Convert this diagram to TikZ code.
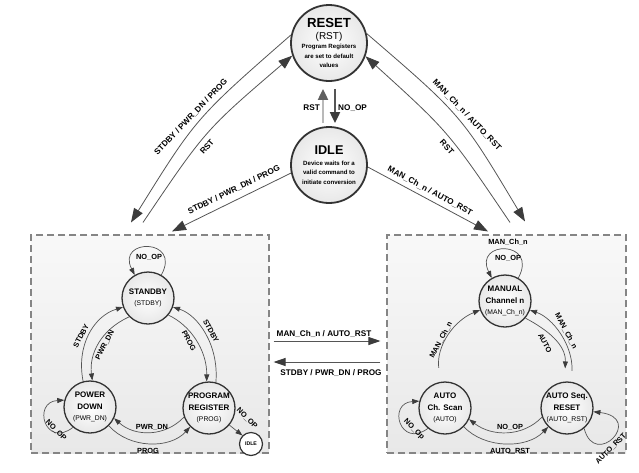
\documentclass[tikz,border=0pt]{standalone}
\usepackage{fontspec}
\setmainfont{Liberation Sans}
\usetikzlibrary{arrows.meta,calc}
\definecolor{ln}{HTML}{555555}
\definecolor{hd}{HTML}{3C3C3C}
\definecolor{cb}{HTML}{333333}
\definecolor{bx}{HTML}{858585}
\newcommand\tB{\fontsize{8}{9}\selectfont\bfseries}
\newcommand\tR{\fontsize{6.8}{9}\selectfont}
\newcommand\tD{\fontsize{6.1}{7}\selectfont\bfseries}
\tikzset{
  st/.style={circle, draw=cb, line width=1.3pt, inner color=white, outer color=gray!18,
    minimum size=52pt, inner sep=0pt, align=center, font=\fontsize{8}{11.5}\selectfont},
  bigst/.style={circle, draw=cb, line width=1.8pt, inner color=white, outer color=gray!18,
    minimum size=76pt, inner sep=0pt, align=center, font=\fontsize{6}{9.6}\selectfont},
  tinyst/.style={circle, draw=cb, line width=1.2pt, fill=white, minimum size=23pt, inner sep=0pt,
    font=\fontsize{5.2}{6}\selectfont\bfseries},
  grpbox/.style={draw=bx, dash pattern=on 7pt off 4pt, line width=1.1pt,
    top color=gray!5, bottom color=gray!18, inner sep=0pt},
  bigarr/.style={draw=ln, line width=0.8pt, -{Triangle[length=14pt,width=10pt,color=hd]}},
  midarr/.style={draw=ln, line width=0.9pt, -{Triangle[length=12pt,width=8pt,color=hd]}},
  smarr/.style={draw=ln, line width=0.7pt, -{Triangle[length=7pt,width=5pt,color=hd]}},
  lbl/.style={font=\fontsize{8.2}{9}\selectfont\bfseries, inner sep=0pt},
  ilbl/.style={font=\fontsize{7.4}{8}\selectfont\bfseries, inner sep=0pt},
}
\begin{document}
\begin{tikzpicture}[x=1pt,y=-1pt]
\useasboundingbox (0,0) rectangle (639,472);
\fill[white] (0,0) rectangle (639,472);

% group boxes
\node[grpbox, minimum width=238pt, minimum height=218pt] (leftbox) at (150,344) {};
\node[grpbox, minimum width=239pt, minimum height=218pt] (rightbox) at (506.5,344) {};

% top states
\node[bigst] (reset) at (329,43) {{\fontsize{13.2}{14}\selectfont\bfseries RESET}\\[3pt]
  {\fontsize{10}{11}\selectfont (RST)}\\[-1pt]{\tD Program Registers}\\{\tD are set to default}\\{\tD values}};
\node[bigst] (idle) at (329,165) {{\fontsize{12.7}{14}\selectfont\bfseries IDLE}\\[1pt]
  {\tD Device waits for a}\\{\tD valid command to}\\{\tD initiate conversion}};

% left group states
\node[st] (standby) at (148,298) {{\tB STANDBY}\\[-1pt]{\tR (STDBY)}};
\node[st] (pwrdn) at (90,407) {{\tB POWER}\\{\tB DOWN}\\{\tR (PWR\_DN)}};
\node[st] (prog) at (209,408) {{\tB PROGRAM}\\{\tB REGISTER}\\{\tR (PROG)}};
\node[tinyst] (idles) at (251,444) {IDLE};

% right group states
\node[st] (manual) at (505,301) {{\tB MANUAL}\\{\tB Channel n}\\{\tR (MAN\_Ch\_n)}};
\node[st] (auto) at (445,408) {{\tB AUTO}\\{\tB Ch. Scan}\\{\tR (AUTO)}};
\node[st] (autorst) at (567,408) {{\tB AUTO Seq.}\\{\tB RESET}\\{\tR (AUTO\_RST)}};

% RESET <-> IDLE
\draw[line width=2pt, draw=gray!55, -{Triangle[length=11pt,width=10pt,color=gray!75!black]}]
  ($(idle.north)+(-6,-3)$) -- ($(reset.south)+(-6,7)$);
\draw[line width=2pt, draw=ln, -{Triangle[length=11pt,width=10pt,color=hd]}]
  ($(reset.south)+(6,7)$) -- ($(idle.north)+(6,-3)$);
\node[lbl, anchor=east] (lrst) at (320,108) {RST};
\node[lbl, anchor=west] (lnoop) at (338,108) {NO\_OP};

% outer connectors, left
\draw[bigarr] (reset.168) .. controls (196,118) .. ($(leftbox.north)+(-19,-12)$);
\draw[bigarr] ($(leftbox.north)+(-7,-12)$) .. controls (205.4,130) .. (reset.199);
\draw[bigarr] (idle.192) -- ($(leftbox.north)+(22,-3)$);
\node[lbl, rotate=46] (lo1) at (191,117) {STDBY / PWR\_DN / PROG};
\node[lbl, rotate=48] (lo2) at (207,147) {RST};
\node[lbl, rotate=26] (lo3) at (234,190) {STDBY / PWR\_DN / PROG};

% outer connectors, right
\draw[bigarr] (reset.14) .. controls (461.4,115.1) .. ($(rightbox.north)+(18.5,-13)$);
\draw[bigarr] ($(rightbox.north)+(3.5,-12)$) .. controls (448.6,131.7) .. (reset.-20);
\draw[bigarr] (idle.-3) -- ($(rightbox.north)+(-18.5,-3)$);
\node[lbl, rotate=-46] (ro1) at (467,115) {MAN\_Ch\_n / AUTO\_RST};
\node[lbl, rotate=-48] (ro2) at (447,147) {RST};
\node[lbl, rotate=-28] (ro3) at (430,191) {MAN\_Ch\_n / AUTO\_RST};

% between groups
\draw[midarr] ($(leftbox.east)+(4,-3)$) -- ($(rightbox.west)+(-6,-3)$);
\draw[midarr] ($(rightbox.west)+(-6,18)$) -- ($(leftbox.east)+(4,18)$);
\node[lbl] (mid1) at (324,334) {MAN\_Ch\_n / AUTO\_RST};
\node[lbl] (mid2) at (331,373) {STDBY / PWR\_DN / PROG};

% left group transitions
\draw[smarr] (standby.60) .. controls (182,238) and (116,238) .. (standby.120);
\node[ilbl] (l1) at (149,257) {NO\_OP};
\draw[smarr] (pwrdn.105) .. controls (76,345) and (94,316) .. (standby.200);
\node[ilbl, rotate=62] (l2) at (81,336) {STDBY};
\draw[smarr] (standby.225) .. controls (100,330) and (89,355) .. (pwrdn.85);
\node[ilbl, rotate=62] (l3) at (105,345) {PWR\_DN};
\draw[smarr] (standby.-40) .. controls (190,325) and (207,350) .. (prog.95);
\node[ilbl, rotate=-62] (l4) at (189,341) {PROG};
\draw[smarr] (prog.75) .. controls (219,345) and (198,315) .. (standby.-20);
\node[ilbl, rotate=-62] (l5) at (211,331) {STDBY};
\draw[smarr] (prog.200) .. controls (165,437) and (135,437) .. (pwrdn.-25);
\node[ilbl] (l6) at (152,427) {PWR\_DN};
\draw[smarr] (pwrdn.-45) .. controls (130,449) and (170,449) .. (prog.-135);
\node[ilbl] (l7) at (148,451) {PROG};
\draw[smarr] (pwrdn.230) .. controls (45,449) and (32,402) .. (pwrdn.165);
\node[ilbl, rotate=-45] (l8) at (56,430) {NO\_OP};
\draw[smarr] (prog.-40) -- (idles.135);
\node[ilbl, rotate=-45] (l9) at (247,418) {NO\_OP};

% right group transitions
\draw[smarr] (manual.60) .. controls (539,240) and (473,240) .. (manual.120);
\node[ilbl] (r0) at (508,242) {MAN\_Ch\_n};
\node[ilbl] (r1) at (508,258) {NO\_OP};
\draw[smarr, shorten <=14pt] (auto.100) .. controls (436,345) and (455,320) .. (manual.200);
\node[ilbl, rotate=62] (r2) at (441,340) {MAN\_Ch\_n};
\draw[smarr, shorten >=13pt] (manual.-40) .. controls (548,330) and (566,345) .. (autorst.95);
\node[ilbl, rotate=-62] (r3) at (545,343) {AUTO};
\draw[smarr, shorten <=11pt] (autorst.80) .. controls (573,345) and (553,318) .. (manual.-20);
\node[ilbl, rotate=-62] (r4) at (566,331) {MAN\_Ch\_n};
\draw[smarr] (autorst.200) .. controls (523,437) and (492,437) .. (auto.-25);
\node[ilbl] (r5) at (510,427) {NO\_OP};
\draw[smarr] (auto.-45) .. controls (485,449) and (527,449) .. (autorst.-135);
\node[ilbl] (r6) at (510,451) {AUTO\_RST};
\draw[smarr] (auto.230) .. controls (400,449) and (387,403) .. (auto.165);
\node[ilbl, rotate=-45] (r7) at (414,429) {NO\_Op};
\draw[smarr] (autorst.-50) .. controls (595,470) and (645,418) .. (autorst.-8);
\node[ilbl, rotate=45] (r8) at (611,449) {AUTO\_RST};
\end{tikzpicture}
\end{document}
